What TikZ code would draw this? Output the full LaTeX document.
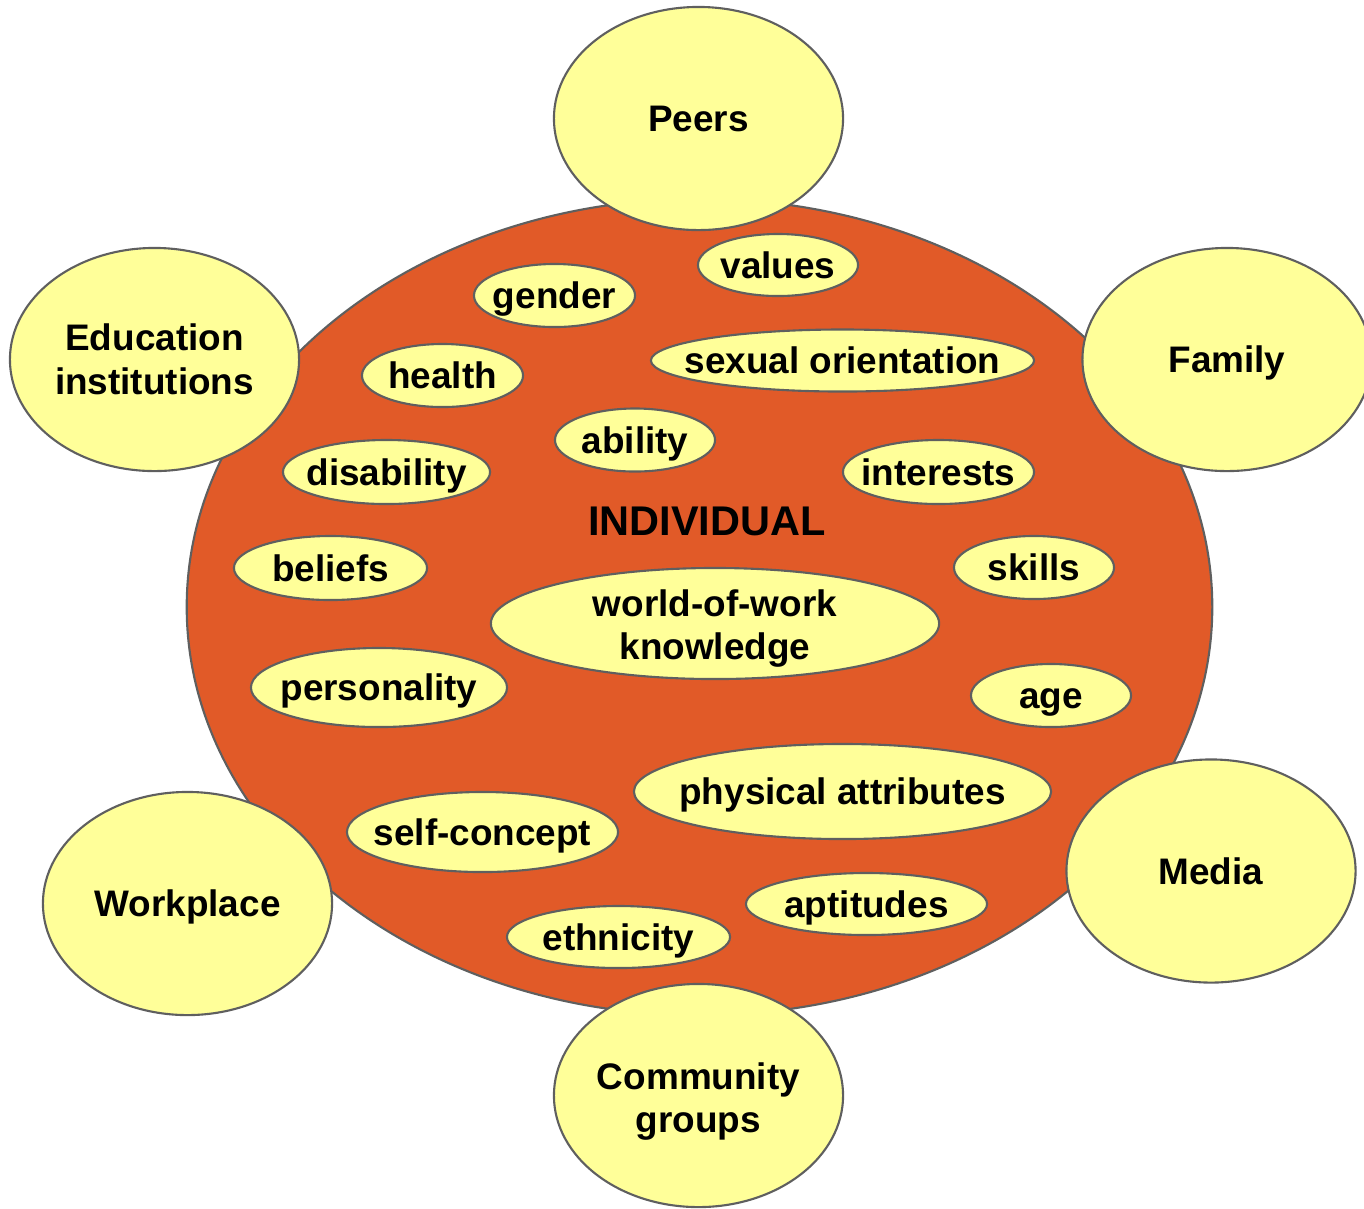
\documentclass[tikz,border=0pt]{standalone}
\usepackage{fontspec}
\setmainfont{Liberation Sans}
\usetikzlibrary{shapes.geometric}
\definecolor{rimgray}{HTML}{5F5F5F}
\definecolor{selforange}{HTML}{E15A28}
\definecolor{paleyellow}{HTML}{FFFF99}

\begin{document}
\begin{tikzpicture}[x=0.01cm,y=-0.01cm,
    blob/.style={ellipse,draw=rimgray,line width=0.6pt,fill=paleyellow,inner sep=0pt},
    ring/.style={blob,minimum width=2.89cm,minimum height=2.23cm},
    trait/.style={blob,minimum height=0.63cm},
    word/.style={font=\bfseries\fontsize{10.5}{12.4}\selectfont,text height=7.5pt,text depth=0pt,inner sep=0pt},
    lines/.style={font=\bfseries\fontsize{10.5}{12.4}\selectfont,align=center,inner sep=0pt}]
    \useasboundingbox (0,0) rectangle (1364,1208);
    \node [ellipse,draw=rimgray,line width=0.6pt,fill=selforange,minimum width=10.25cm,minimum height=8.16cm] (self) at (699.5,607) {};
    \node [word,font=\bfseries\fontsize{11.8}{13}\selectfont,text height=8.4pt] (indiv) at (707,520.5) {INDIVIDUAL};
    % influences around the individual
    \node [ring,label={[word]center:Peers}] (peers) at (698.5,118.5) {};
    \node [ring,label={[lines]center:{Education\\institutions}}] (edu) at (154.5,359.5) {};
    \node [ring,label={[word]center:Family}] (family) at (1227,359.5) {};
    \node [ring,label={[word]center:Workplace}] (work) at (187.5,903.5) {};
    \node [ring,label={[word]center:Media}] (media) at (1211,871) {};
    \node [ring,label={[lines,yshift=-0.6mm]center:{Community\\groups}}] (community) at (698.5,1095.5) {};
    % traits
    \node [trait,minimum width=1.60cm,minimum height=0.62cm,label={[word]center:values}] (values) at (778,265) {};
    \node [trait,minimum width=1.61cm,label={[word]center:gender}] (gender) at (554.5,295.5) {};
    \node [trait,minimum width=3.83cm,minimum height=0.62cm,label={[word]center:sexual orientation}] (sexor) at (842.5,360.5) {};
    \node [trait,minimum width=1.61cm,label={[word]center:health}] (health) at (442.5,375.5) {};
    \node [trait,minimum width=1.60cm,label={[word]center:ability}] (ability) at (635,440) {};
    \node [trait,minimum width=2.07cm,minimum height=0.64cm,label={[word]center:disability}] (disab) at (386.5,472) {};
    \node [trait,minimum width=1.91cm,minimum height=0.64cm,label={[word]center:interests}] (interests) at (938.5,472) {};
    \node [trait,minimum width=1.93cm,minimum height=0.64cm,label={[word]center:beliefs}] (beliefs) at (330.5,568) {};
    \node [trait,minimum width=1.60cm,label={[word]center:skills}] (skills) at (1034,567.5) {};
    \node [trait,minimum width=4.48cm,minimum height=1.11cm,label={[lines,yshift=-0.5mm]center:{world-of-work\\knowledge}}] (wow) at (715,623.5) {};
    \node [trait,minimum width=2.56cm,minimum height=0.79cm,label={[word]center:personality}] (person) at (379,687.5) {};
    \node [trait,minimum width=1.60cm,label={[word]center:age}] (age) at (1051,695.5) {};
    \node [trait,minimum width=4.17cm,minimum height=0.95cm,label={[word]center:physical attributes}] (phys) at (842.5,791.5) {};
    \node [trait,minimum width=2.71cm,minimum height=0.80cm,label={[word]center:self-concept}] (selfc) at (482.5,832) {};
    \node [trait,minimum width=2.41cm,minimum height=0.62cm,label={[word]center:aptitudes}] (apt) at (866.5,904) {};
    \node [trait,minimum width=2.23cm,minimum height=0.62cm,label={[word]center:ethnicity}] (ethn) at (618.5,937) {};
\end{tikzpicture}
\end{document}
